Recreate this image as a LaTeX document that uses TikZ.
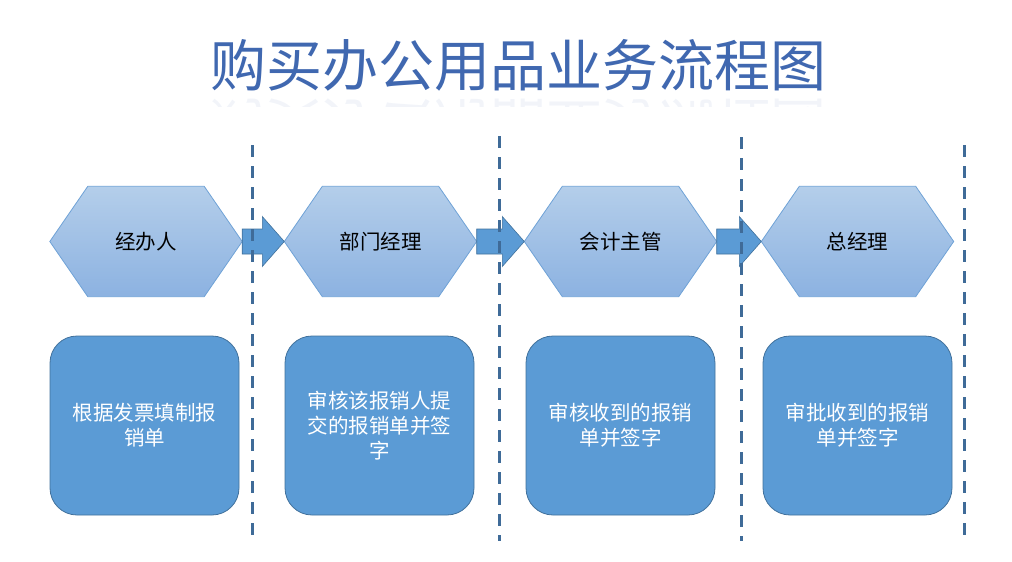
\documentclass[tikz,border=0pt]{standalone}
\usepackage{fontspec}
\newfontfamily\cjk{Noto Sans CJK SC}
\usetikzlibrary{backgrounds,calc}
\definecolor{hexTop}{HTML}{B4CEEA}
\definecolor{hexBot}{HTML}{8CB2E1}
\definecolor{hexLine}{HTML}{6FA2D6}
\definecolor{boxFill}{HTML}{5B9BD5}
\definecolor{boxLine}{HTML}{41719C}
\definecolor{sepLine}{HTML}{3F6B98}
\definecolor{titleBlue}{HTML}{4068B0}
\tikzset{
  hexn/.style={minimum width=192pt,minimum height=110pt,inner sep=0pt,
    font=\cjk\fontsize{20.5}{24}\selectfont,text=black},
  hexshape/.style={draw=hexLine,line width=0.8pt,top color=hexTop,bottom color=hexBot},
  stepbox/.style={rectangle,rounded corners=27pt,minimum width=189pt,minimum height=179pt,
    inner sep=0pt,fill=boxFill,draw=boxLine,line width=0.8pt,text=white,align=center,
    font=\cjk\fontsize{20.5}{25}\selectfont},
  blockarrow/.style={fill=boxFill,draw=boxLine,line width=0.6pt},
  sepline/.style={draw=sepLine,line width=3pt,dash pattern=on 12pt off 9pt},
  titletext/.style={font=\cjk\fontsize{56}{60}\selectfont,text=titleBlue,inner sep=0pt}
}
\newcommand{\hexpath}[1]{%
  \path[hexshape] (#1.west) -- ([xshift=38pt]#1.north west) -- ([xshift=-38pt]#1.north east)
    -- (#1.east) -- ([xshift=-38pt]#1.south east) -- ([xshift=38pt]#1.south west) -- cycle;}
\newcommand{\blkarrow}[2]{%
  \path[blockarrow] ([yshift=12.5pt]#1) -- ([xshift=-22pt,yshift=12.5pt]#2)
    -- ([xshift=-22pt,yshift=25pt]#2) -- (#2) -- ([xshift=-22pt,yshift=-25pt]#2)
    -- ([xshift=-22pt,yshift=-12.5pt]#2) -- ([yshift=-12.5pt]#1) -- cycle;}
\begin{document}
\begin{tikzpicture}[x=1pt,y=-1pt]
\useasboundingbox (0,0) rectangle (1012,562);
% title
\node[titletext] (title) at (518,65) {购买办公用品业务流程图};
\begin{scope}
  \clip (150,95) rectangle (880,106);
  \node[titletext,yscale=-1,opacity=0.07] (titlerefl) at (518,125) {购买办公用品业务流程图};
\end{scope}
% hexagons
\node[hexn] (h1) at (146,241.5) {经办人};
\node[hexn] (h2) at (380.5,241.5) {部门经理};
\node[hexn] (h3) at (620.5,241.5) {会计主管};
\node[hexn] (h4) at (857.5,241.5) {总经理};
\begin{scope}[on background layer]
  \hexpath{h1}\hexpath{h2}\hexpath{h3}\hexpath{h4}
\end{scope}
% block arrows
\blkarrow{h1.east}{h2.west}
\blkarrow{h2.east}{h3.west}
\blkarrow{h3.east}{h4.west}
% boxes
\node[stepbox] (b1) at (144.5,425.5) {根据发票填制报\\销单};
\node[stepbox] (b2) at (379.5,425.5) {审核该报销人提\\交的报销单并签\\字};
\node[stepbox] (b3) at (620.5,425.5) {审核收到的报销\\单并签字};
\node[stepbox] (b4) at (857.5,425.5) {审批收到的报销\\单并签字};
% separators
\coordinate (s1t) at (252,145); \coordinate (s1b) at (252,535);
\coordinate (s2t) at (499,136); \coordinate (s2b) at (499,541);
\coordinate (s3t) at (741,137); \coordinate (s3b) at (741,541);
\coordinate (s4t) at (964,145); \coordinate (s4b) at (964,535);
\draw[sepline] (s1t) -- (s1b);
\draw[sepline] (s2t) -- (s2b);
\draw[sepline] (s3t) -- (s3b);
\draw[sepline] (s4t) -- (s4b);
\end{tikzpicture}
\end{document}
